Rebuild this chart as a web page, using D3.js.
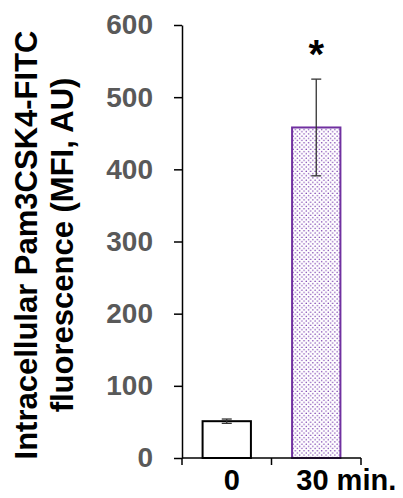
<!DOCTYPE html>
<html>
<head>
<meta charset="utf-8">
<script src="https://cdn.jsdelivr.net/npm/d3@7"></script>
<style>
  body { margin: 0; background: #fff; }
  text { font-family: "Liberation Sans", Arial, sans-serif; font-weight: bold; }
</style>
</head>
<body>
<div id="chart"></div>
<script>
const categories = ["0", "30 min."];
const means = [51, 458];
const errors = [3, 67];
const yTicks = [0, 100, 200, 300, 400, 500, 600];
const significant = [false, true];

const margin = { top: 25, right: 42, bottom: 40, left: 182 };
const width = 403 - margin.left - margin.right;
const height = 498 - margin.top - margin.bottom;

const svg = d3.select("#chart")
    .append("svg")
    .attr("width", 403)
    .attr("height", 498);

// dotted fill for the treated bar
const defs = svg.append("defs");
const pat = defs.append("pattern")
    .attr("id", "dots")
    .attr("patternUnits", "userSpaceOnUse")
    .attr("width", 4.4)
    .attr("height", 4.4);
pat.append("rect").attr("width", 4.4).attr("height", 4.4).attr("fill", "#fff");
pat.append("circle").attr("cx", 1.1).attr("cy", 1.1).attr("r", 0.75).attr("fill", "#7b3fb0");
pat.append("circle").attr("cx", 3.3).attr("cy", 3.3).attr("r", 0.75).attr("fill", "#7b3fb0");

const g = svg.append("g")
    .attr("transform", "translate(" + margin.left + "," + margin.top + ")");

const x = d3.scaleBand()
    .domain(categories)
    .range([0, width])
    .paddingInner(0.46)
    .paddingOuter(0.23);

const y = d3.scaleLinear()
    .domain([0, 600])
    .range([height, 0]);

// bars
g.selectAll(".bar")
    .data(means)
    .enter().append("rect")
    .attr("class", "bar")
    .attr("x", (d, i) => x(categories[i]))
    .attr("width", x.bandwidth())
    .attr("y", d => y(d))
    .attr("height", d => height - y(d))
    .attr("fill", (d, i) => i === 0 ? "#fff" : "url(#dots)")
    .attr("stroke", (d, i) => i === 0 ? "#000" : "#7030a0")
    .attr("stroke-width", 2);

// error bars
const cap = 5;
means.forEach((m, i) => {
    const cx = x(categories[i]) + x.bandwidth() / 2;
    const eg = g.append("g").attr("stroke", "#333").attr("stroke-width", 1.3);
    eg.append("line").attr("x1", cx).attr("x2", cx).attr("y1", y(m + errors[i])).attr("y2", y(m - errors[i]));
    eg.append("line").attr("x1", cx - cap).attr("x2", cx + cap).attr("y1", y(m + errors[i])).attr("y2", y(m + errors[i]));
    eg.append("line").attr("x1", cx - cap).attr("x2", cx + cap).attr("y1", y(m - errors[i])).attr("y2", y(m - errors[i]));
    if (significant[i]) {
        g.append("text")
            .attr("x", cx)
            .attr("y", y(m + errors[i]) - 11)
            .attr("text-anchor", "middle")
            .style("font-size", "40px")
            .attr("fill", "#000")
            .text("*");
    }
});

// y axis
const yAxis = g.append("g")
    .call(d3.axisLeft(y).tickValues(yTicks).tickSize(8).tickSizeOuter(0).tickPadding(21));
yAxis.select(".domain").attr("stroke", "#000").attr("stroke-width", 1.5);
yAxis.selectAll("line").attr("stroke", "#000").attr("stroke-width", 1.5);
yAxis.selectAll("text")
    .style("font-size", "28px")
    .style("font-family", "'Liberation Sans', Arial, sans-serif")
    .style("font-weight", "bold")
    .attr("fill", "#595959");

// x axis with ticks at the category boundaries
const xAxisG = g.append("g").attr("transform", "translate(0," + height + ")");
xAxisG.append("line")
    .attr("x1", 0).attr("x2", width)
    .attr("stroke", "#000").attr("stroke-width", 1.5);
const bounds = [0, (x(categories[0]) + x.bandwidth() + x(categories[1])) / 2, width];
xAxisG.selectAll(".xt")
    .data(bounds)
    .enter().append("line")
    .attr("x1", d => d).attr("x2", d => d)
    .attr("y1", 0).attr("y2", 7)
    .attr("stroke", "#000").attr("stroke-width", 1.5);
// labels sit a little right of the bar centres in the original
const labelShift = [5, 30];
xAxisG.selectAll(".xl")
    .data(categories)
    .enter().append("text")
    .attr("x", (d, i) => x(d) + x.bandwidth() / 2 + labelShift[i])
    .attr("y", 32)
    .attr("text-anchor", "middle")
    .style("font-size", "29px")
    .attr("fill", "#000")
    .text(d => d);

// y title
const title = svg.append("text")
    .attr("transform", "translate(0,245) rotate(-90)")
    .attr("text-anchor", "middle")
    .style("font-size", "31px")
    .attr("fill", "#000");
title.append("tspan").attr("x", 0).attr("y", 37).text("Intracellular Pam3CSK4-FITC");
title.append("tspan").attr("x", 0).attr("y", 73).text("fluorescence (MFI, AU)");
</script>
</body>
</html>
